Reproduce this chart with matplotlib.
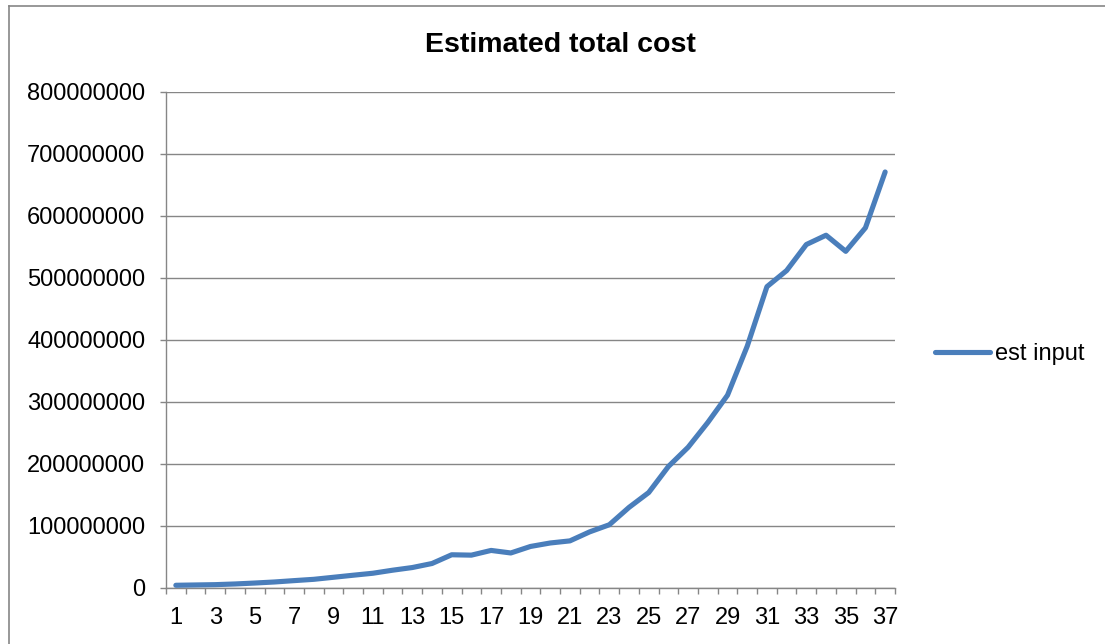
import matplotlib
matplotlib.use("Agg")
import matplotlib.pyplot as plt
from matplotlib.lines import Line2D
from matplotlib.ticker import FixedLocator, FuncFormatter

categories = list(range(1, 38))
est_input = [4.4e6, 4.9e6, 5.4e6, 6.5e6, 8.0e6, 9.7e6, 11.9e6, 14.0e6, 17.3e6, 20.6e6,
             23.8e6, 28.7e6, 33.0e6, 39.5e6, 53.6e6, 53.0e6, 60.6e6, 56.5e6, 67.0e6, 72.6e6,
             76.0e6, 90.5e6, 102e6, 130e6, 154e6, 196e6, 227e6, 267e6, 311e6, 390e6,
             486e6, 512e6, 554e6, 569e6, 543e6, 581e6, 671e6]
y_ticks = [0, 100000000, 200000000, 300000000, 400000000, 500000000, 600000000, 700000000, 800000000]
title = "Estimated total cost"
series_name = "est input"

plt.rcParams['font.family'] = ['Liberation Sans', 'DejaVu Sans']

W, H = 1105, 644
fig = plt.figure(figsize=(W / 100, H / 100), dpi=100)
L, R, T, B = 166, 895, 92, 588
ax = fig.add_axes([L / W, 1 - B / H, (R - L) / W, (B - T) / H])

grid_c = '#868686'
line_c = '#4A7EBB'

ax.plot(categories, est_input, color=line_c, lw=3.7, solid_capstyle='round',
        solid_joinstyle='round', label=series_name, zorder=3)

ax.set_xlim(0.5, len(categories) + 0.5)
ax.set_ylim(y_ticks[0], y_ticks[-1])

ax.yaxis.set_major_locator(FixedLocator(y_ticks))
ax.yaxis.set_major_formatter(FuncFormatter(lambda v, p: f"{int(round(v))}"))
ax.grid(axis='y', color=grid_c, lw=1.0, zorder=0)
ax.set_axisbelow(True)

ax.set_xticks(categories[::2])
ax.set_xticklabels([str(c) for c in categories[::2]])
ax.set_xticks([c - 0.5 for c in categories] + [len(categories) + 0.5], minor=True)

for s in ['top', 'right']:
    ax.spines[s].set_visible(False)
for s in ['left', 'bottom']:
    ax.spines[s].set_color(grid_c)
    ax.spines[s].set_linewidth(1.0)

ax.tick_params(axis='y', which='major', length=4.3, width=1.0, color=grid_c,
               labelsize=17, pad=10.5, labelcolor='black')
ax.tick_params(axis='x', which='major', length=0, labelsize=17, pad=14, labelcolor='black')
ax.tick_params(axis='x', which='minor', length=4.6, width=1.0, color=grid_c)

fig.text(560 / W, 1 - 52 / H, title, ha='center', va='baseline', fontsize=20.5,
         fontweight='bold')

leg = ax.legend(loc='center left', bbox_to_anchor=(935 / W, 1 - 354 / H),
                bbox_transform=fig.transFigure, frameon=False, fontsize=17,
                handlelength=2.35, handletextpad=0.2, borderpad=0, borderaxespad=0)

# chart border (left and top)
fig.add_artist(Line2D([8.5 / W, 8.5 / W], [0, 1 - 5.5 / H], color=grid_c, lw=1.2,
                      transform=fig.transFigure))
fig.add_artist(Line2D([8.5 / W, 1], [1 - 5.5 / H, 1 - 5.5 / H], color=grid_c, lw=1.2,
                      transform=fig.transFigure))

fig.savefig('out.png', dpi=100, facecolor='white')
